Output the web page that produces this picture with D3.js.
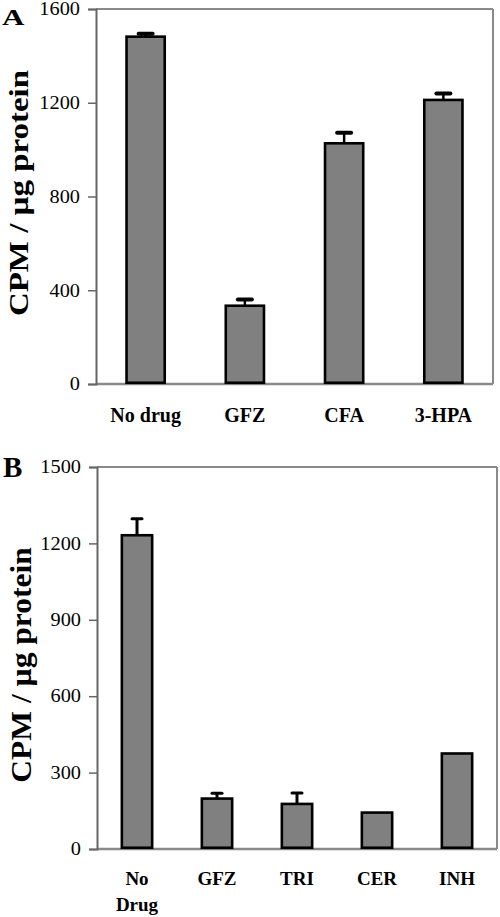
<!DOCTYPE html>
<html><head><meta charset="utf-8">
<script src="https://cdn.jsdelivr.net/npm/d3@7"></script>
<style>body{margin:0;background:#fff}svg{display:block}svg text{font-family:"Liberation Serif","Times New Roman",Times,"DejaVu Serif",serif;fill:#000}</style>
</head><body>
<script>
const catsA = ["No drug", "GFZ", "CFA", "3-HPA"];
const valsA = [1482, 334, 1027, 1212];
const errA = [12, 27, 45, 27];
const ticksA = [0, 400, 800, 1200, 1600];

const catsB = ["No Drug", "GFZ", "TRI", "CER", "INH"];
const valsB = [1232, 198, 177, 143, 375];
const errB = [65, 21, 43, 0, 0];
const ticksB = [0, 300, 600, 900, 1200, 1500];

const FONT = '"Liberation Serif","Times New Roman",Times,"DejaVu Serif",serif';
const svg = d3.select("body").append("svg").attr("width", 500).attr("height", 917).style("font-family", FONT);

function panel(cfg) {
  const x = d3.scaleBand().domain(cfg.cats).range([cfg.x0, cfg.x1]).paddingInner(0.59).paddingOuter(0.295);
  const y = d3.scaleLinear().domain([0, cfg.max]).range([cfg.y0, cfg.y1]);
  const g = svg.append("g");
  g.append("line").attr("x1", cfg.x0).attr("x2", cfg.x1).attr("y1", y(cfg.max)).attr("y2", y(cfg.max)).attr("stroke", "#8a8a8a").attr("stroke-width", 2);
  g.append("line").attr("x1", cfg.x1).attr("x2", cfg.x1).attr("y1", y(cfg.max)).attr("y2", y(0)).attr("stroke", "#8a8a8a").attr("stroke-width", 2);
  g.append("line").attr("x1", cfg.x0).attr("x2", cfg.x1).attr("y1", y(0)).attr("y2", y(0)).attr("stroke", "#8a8a8a").attr("stroke-width", 2.5);
  const ax = g.append("g").attr("transform", `translate(${cfg.x0},0)`)
    .call(d3.axisLeft(y).tickValues(cfg.ticks).tickSize(8).tickPadding(8).tickFormat(d3.format("d")));
  ax.attr("font-family", null).attr("font-size", null);
  ax.select(".domain").attr("stroke", "#666").attr("stroke-width", 2);
  ax.selectAll(".tick line").attr("stroke", "#666").attr("stroke-width", 1.5);
  ax.selectAll(".tick text").style("font-size", "18px").attr("fill", "#000")
    .attr("x", -16 / 1.13).attr("transform", "scale(1.13,1)");
  const eb = g.selectAll(".err").data(cfg.cats.map((c, i) => ({c, v: cfg.vals[i], e: cfg.errs[i]})).filter(d => d.e > 0)).enter().append("g");
  eb.append("line").attr("x1", d => x(d.c) + x.bandwidth() / 2).attr("x2", d => x(d.c) + x.bandwidth() / 2)
    .attr("y1", d => y(d.v)).attr("y2", d => y(d.v + d.e)).attr("stroke", "#000").attr("stroke-width", cfg.stem);
  eb.append("line").attr("x1", d => x(d.c) + x.bandwidth() / 2 - cfg.cap / 2).attr("x2", d => x(d.c) + x.bandwidth() / 2 + cfg.cap / 2)
    .attr("y1", d => y(d.v + d.e)).attr("y2", d => y(d.v + d.e)).attr("stroke", "#000").attr("stroke-width", cfg.capW).attr("stroke-linecap", "round");
  g.selectAll(".bar").data(cfg.cats.map((c, i) => ({c, v: cfg.vals[i]}))).enter().append("rect")
    .attr("x", d => x(d.c) + 1.25).attr("width", x.bandwidth() - 2.5)
    .attr("y", d => y(d.v)).attr("height", d => y(0) - y(d.v) - 1.25)
    .attr("fill", "#808080").attr("stroke", "#000").attr("stroke-width", 2.6);
  cfg.cats.forEach(c => {
    const lines = cfg.split && c.indexOf(" ") > 0 ? c.split(" ") : [c];
    lines.forEach((t, k) => {
      g.append("text").attr("x", x(c) + x.bandwidth() / 2).attr("y", cfg.labY + k * cfg.lineH)
        .attr("text-anchor", "middle").style("font-size", cfg.labSize + "px").style("font-weight", "bold").text(t);
    });
  });
  g.append("text").attr("transform", `translate(${cfg.titleX},${cfg.titleY}) rotate(-90) scale(${cfg.titleSx},1)`)
    .attr("text-anchor", "middle").style("font-size", cfg.titleSize + "px").style("font-weight", "bold")
    .text("CPM / µg protein");
  g.append("text").attr("transform", `translate(${cfg.letX},${cfg.letY}) scale(${cfg.letSx},1)`)
    .style("font-size", cfg.letSize + "px").style("font-weight", "bold").text(cfg.letter);
}

panel({cats: catsA, vals: valsA, errs: errA, ticks: ticksA, max: 1600,
  x0: 96, x1: 493, y0: 384, y1: 9, stem: 2.5, cap: 14, capW: 4,
  labY: 422, labSize: 20, lineH: 0, split: false,
  titleX: 28, titleY: 193, titleSize: 27, titleSx: 1.22,
  letter: "A", letX: 2, letY: 25, letSize: 23, letSx: 1.35});

panel({cats: catsB, vals: valsB, errs: errB, ticks: ticksB, max: 1500,
  x0: 97, x1: 497, y0: 849, y1: 467, stem: 3, cap: 10, capW: 3,
  labY: 885, labSize: 19, lineH: 26, split: true,
  titleX: 31, titleY: 665, titleSize: 30, titleSx: 1.05,
  letter: "B", letX: 3, letY: 477, letSize: 29, letSx: 1.0});
</script>
</body></html>
